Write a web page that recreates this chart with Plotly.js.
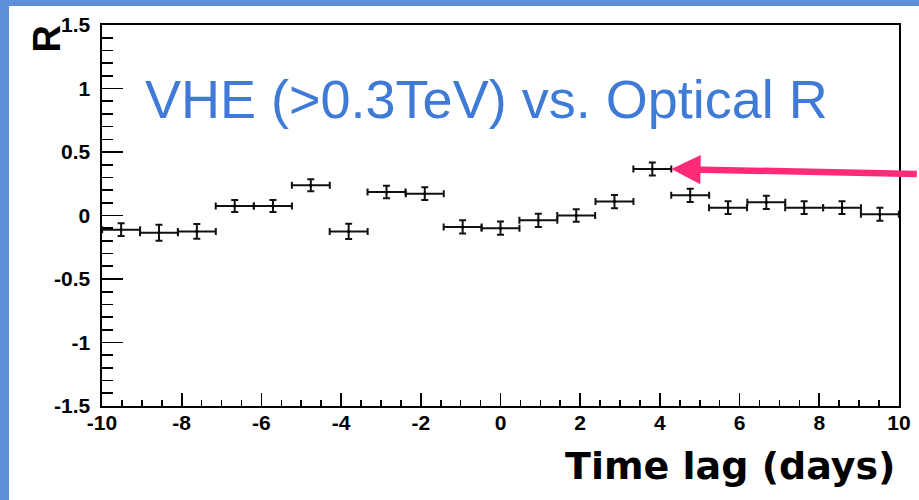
<!DOCTYPE html>
<html>
<head>
<meta charset="utf-8">
<script src="https://cdn.plot.ly/plotly-3.0.1.min.js"></script>
<style>
  html, body { margin: 0; padding: 0; width: 919px; height: 500px; overflow: hidden; background: #5d8fda; }
  #chart { position: absolute; left: 9px; top: 6px; width: 910px; height: 494px; }
</style>
</head>
<body>
<div id="chart"></div>
<script>
// Time-lag bins (days) and the measured correlation R
const binCenters = [-9.52, -8.57, -7.62, -6.67, -5.71, -4.76, -3.81, -2.86, -1.90, -0.95, 0,
                    0.95, 1.90, 2.86, 3.81, 4.76, 5.71, 6.67, 7.62, 8.57, 9.52];
const binHalfWidth = [0.476, 0.476, 0.476, 0.476, 0.476, 0.476, 0.476, 0.476, 0.476, 0.476, 0.476,
                      0.476, 0.476, 0.476, 0.476, 0.476, 0.476, 0.476, 0.476, 0.476, 0.476];
const rValues = [-0.112, -0.135, -0.125, 0.075, 0.075, 0.238, -0.125, 0.185, 0.172, -0.090, -0.100,
                 -0.038, 0.000, 0.110, 0.366, 0.159, 0.062, 0.104, 0.062, 0.062, 0.010];
const rErrors = [0.050, 0.063, 0.058, 0.048, 0.048, 0.047, 0.060, 0.050, 0.050, 0.052, 0.052,
                 0.052, 0.050, 0.052, 0.052, 0.052, 0.050, 0.052, 0.050, 0.050, 0.052];

const xTickVals = [-10, -8, -6, -4, -2, 0, 2, 4, 6, 8, 10];
const xTickText = ['-10', '-8', '-6', '-4', '-2', '0', '2', '4', '6', '8', '10'];
const yTickVals = [-1.5, -1, -0.5, 0, 0.5, 1, 1.5];
const yTickText = ['-1.5', '-1', '-0.5', '0', '0.5', '1', '1.5'];

const titleText = 'VHE (&gt;0.3TeV) vs. Optical R';
const xTitle = 'Time lag (days)';
const yTitle = 'R';
const highlightBin = 14;

const tickFont = { family: 'Liberation Sans, Arial, sans-serif', size: 21, color: '#000', weight: 'bold' };

const trace = {
  x: binCenters,
  y: rValues,
  type: 'scatter',
  mode: 'markers',
  marker: { size: 3, color: '#000' },
  error_x: { type: 'data', array: binHalfWidth, symmetric: true, width: 3.5, thickness: 2, color: '#111' },
  error_y: { type: 'data', array: rErrors, symmetric: true, width: 3.5, thickness: 2, color: '#111' },
  cliponaxis: false,
  hoverinfo: 'x+y'
};

const layout = {
  width: 910,
  height: 494,
  margin: { l: 93, r: 20, t: 19, b: 94 },
  paper_bgcolor: '#ffffff',
  plot_bgcolor: '#ffffff',
  showlegend: false,
  xaxis: {
    range: [-10, 10],
    tickmode: 'array', tickvals: xTickVals, ticktext: xTickText,
    ticks: 'inside', ticklen: 13, tickwidth: 1.6, tickcolor: '#000',
    minor: { tickmode: 'linear', tick0: -10, dtick: 0.5, ticks: 'inside', ticklen: 6, tickwidth: 1.6, tickcolor: '#000' },
    showline: true, linewidth: 1.6, linecolor: '#000', mirror: true,
    showgrid: false, zeroline: false,
    tickfont: tickFont,
    ticklabelstandoff: -3
  },
  yaxis: {
    range: [-1.5, 1.5],
    tickmode: 'array', tickvals: yTickVals, ticktext: yTickText,
    ticks: 'inside', ticklen: 21, tickwidth: 1.6, tickcolor: '#000',
    minor: { tickmode: 'linear', tick0: -1.5, dtick: 0.1, ticks: 'inside', ticklen: 11, tickwidth: 1.6, tickcolor: '#000' },
    showline: true, linewidth: 1.6, linecolor: '#000', mirror: true,
    showgrid: false, zeroline: false,
    tickfont: tickFont,
    ticklabelstandoff: 6
  },
  annotations: [
    {
      text: titleText, xref: 'paper', yref: 'paper', x: 0.052, y: 0.806,
      xanchor: 'left', yanchor: 'middle', showarrow: false,
      font: { family: 'Liberation Sans, Arial, sans-serif', size: 54, color: '#3f7bd6' }
    },
    {
      text: xTitle, xref: 'paper', yref: 'paper', x: 0.9975, y: -0.157,
      xanchor: 'right', yanchor: 'middle', showarrow: false,
      font: { family: 'DejaVu Sans, sans-serif', size: 38, color: '#000', weight: 'bold' }
    },
    {
      text: yTitle, xref: 'paper', yref: 'paper', x: -0.0684, y: 0.963,
      xanchor: 'center', yanchor: 'middle', showarrow: false, textangle: -90,
      font: { family: 'Liberation Sans, Arial, sans-serif', size: 38, color: '#000', weight: 'bold' }
    },
    {
      text: '', xref: 'x', yref: 'y',
      x: binCenters[highlightBin] + binHalfWidth[highlightBin], y: rValues[highlightBin],
      showarrow: true, arrowhead: 2, arrowsize: 0.9, arrowwidth: 6.5, arrowcolor: '#ff2b78',
      ax: 247, ay: 5, standoff: 0
    }
  ]
};

Plotly.newPlot('chart', [trace], layout, { displayModeBar: false, staticPlot: true });
</script>
</body>
</html>
